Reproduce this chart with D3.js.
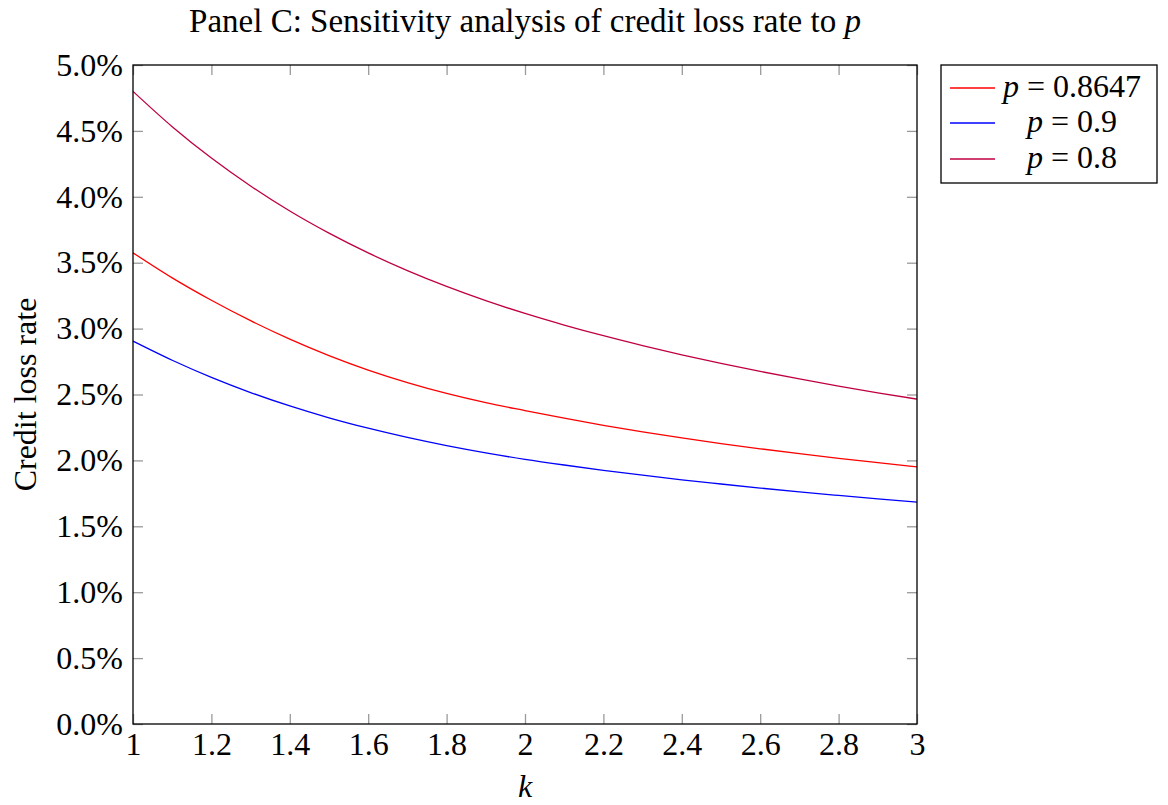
<!DOCTYPE html>
<html>
<head>
<meta charset="utf-8">
<script src="https://cdn.jsdelivr.net/npm/d3@7"></script>
<style>
  html, body { margin: 0; padding: 0; background: #ffffff; }
  svg { display: block; }
  text { font-family: "Liberation Serif", "Times New Roman", serif; fill: #000; }
</style>
</head>
<body>
<svg id="chart" width="1168" height="805"></svg>
<script>
// Sensitivity parameter k
const kValues = [1.0, 1.1, 1.2, 1.3, 1.4, 1.5, 1.6, 1.7, 1.8, 1.9, 2.0,
                 2.1, 2.2, 2.3, 2.4, 2.5, 2.6, 2.7, 2.8, 2.9, 3.0];

// Credit loss rate (%) for each p
const lossP08647 = [3.575, 3.385, 3.215, 3.06, 2.92, 2.795, 2.685, 2.59, 2.508, 2.438, 2.378,
                    2.32, 2.266, 2.217, 2.171, 2.128, 2.088, 2.051, 2.016, 1.983, 1.951];
const lossP09    = [2.905, 2.76, 2.63, 2.515, 2.413, 2.323, 2.244, 2.174, 2.112, 2.057, 2.008,
                    1.965, 1.925, 1.888, 1.853, 1.821, 1.79, 1.761, 1.734, 1.708, 1.684];
const lossP08    = [4.80, 4.532, 4.294, 4.082, 3.892, 3.724, 3.574, 3.44, 3.32, 3.212, 3.115,
                    3.027, 2.946, 2.871, 2.801, 2.736, 2.675, 2.618, 2.564, 2.513, 2.465];

const seriesNames = ["0.8647", "0.9", "0.8"];
const seriesColors = ["#ff0000", "#0000ff", "#bf0040"];
const seriesData = [lossP08647, lossP09, lossP08];

const xTicks = [1, 1.2, 1.4, 1.6, 1.8, 2, 2.2, 2.4, 2.6, 2.8, 3];
const yTicks = [0, 0.5, 1.0, 1.5, 2.0, 2.5, 3.0, 3.5, 4.0, 4.5, 5.0];

const svg = d3.select("#chart");
const plot = { left: 133, right: 917, top: 65, bottom: 724 };

const x = d3.scaleLinear().domain([1, 3]).range([plot.left, plot.right]);
const y = d3.scaleLinear().domain([0, 5]).range([plot.bottom, plot.top]);

const tickLen = 10;
const tickColor = "#9a9a9a";
const labelSize = 32;

// Axes: ticks point inward on all four sides
const axisBottom = d3.axisBottom(x).tickValues(xTicks).tickSizeInner(-tickLen).tickSizeOuter(0)
  .tickPadding(8).tickFormat(d => d3.format("")(d));
const axisTop = d3.axisTop(x).tickValues(xTicks).tickSizeInner(-tickLen).tickSizeOuter(0).tickFormat("");
const axisLeft = d3.axisLeft(y).tickValues(yTicks).tickSizeInner(-tickLen).tickSizeOuter(0)
  .tickPadding(10).tickFormat(d => d3.format(".1f")(d) + "%");
const axisRight = d3.axisRight(y).tickValues(yTicks).tickSizeInner(-tickLen).tickSizeOuter(0).tickFormat("");

function styleAxis(g) {
  g.select(".domain").remove();
  g.selectAll(".tick line").attr("stroke", tickColor).attr("stroke-width", 1.3);
  g.selectAll(".tick text")
    .attr("font-family", "Liberation Serif, serif")
    .attr("font-size", labelSize)
    .attr("fill", "#000");
}

svg.append("g").attr("transform", `translate(0,${plot.bottom})`).call(axisBottom).call(styleAxis);
svg.append("g").attr("transform", `translate(0,${plot.top})`).call(axisTop).call(styleAxis);
svg.append("g").attr("transform", `translate(${plot.left},0)`).call(axisLeft).call(styleAxis);
svg.append("g").attr("transform", `translate(${plot.right},0)`).call(axisRight).call(styleAxis);

// Data lines
const line = d3.line()
  .x((d, i) => x(kValues[i]))
  .y(d => y(d))
  .curve(d3.curveMonotoneX);
const lineGroup = svg.append("g");
seriesData.forEach((vals, s) => {
  lineGroup.append("path")
    .datum(vals)
    .attr("d", line)
    .attr("fill", "none")
    .attr("stroke", seriesColors[s])
    .attr("stroke-width", 1.3);
});

// Frame
svg.append("rect")
  .attr("x", plot.left).attr("y", plot.top)
  .attr("width", plot.right - plot.left).attr("height", plot.bottom - plot.top)
  .attr("fill", "none").attr("stroke", "#000").attr("stroke-width", 1.3);

// Title
const title = svg.append("text")
  .attr("x", (plot.left + plot.right) / 2).attr("y", 32)
  .attr("text-anchor", "middle").attr("font-size", 33);
title.append("tspan").text("Panel C: Sensitivity analysis of credit loss rate to ");
title.append("tspan").attr("font-style", "italic").text("p");

// Axis labels
svg.append("text")
  .attr("x", (plot.left + plot.right) / 2).attr("y", 797)
  .attr("text-anchor", "middle").attr("font-size", 32).attr("font-style", "italic")
  .text("k");

svg.append("text")
  .attr("transform", `translate(36,${(plot.top + plot.bottom) / 2}) rotate(-90)`)
  .attr("text-anchor", "middle").attr("font-size", 32)
  .text("Credit loss rate");

// Legend
const legend = svg.append("g").attr("transform", "translate(941,65)");
legend.append("rect")
  .attr("width", 216).attr("height", 118)
  .attr("fill", "#fff").attr("stroke", "#000").attr("stroke-width", 1.3);
const rowY = [23, 58, 94];
seriesNames.forEach((name, i) => {
  legend.append("line")
    .attr("x1", 9).attr("x2", 54).attr("y1", rowY[i]).attr("y2", rowY[i])
    .attr("stroke", seriesColors[i]).attr("stroke-width", 1.3);
  const t = legend.append("text")
    .attr("x", 131).attr("y", rowY[i] + 9)
    .attr("text-anchor", "middle").attr("font-size", 32);
  t.append("tspan").attr("font-style", "italic").text("p");
  t.append("tspan").text(" = " + name);
});
</script>
</body>
</html>
